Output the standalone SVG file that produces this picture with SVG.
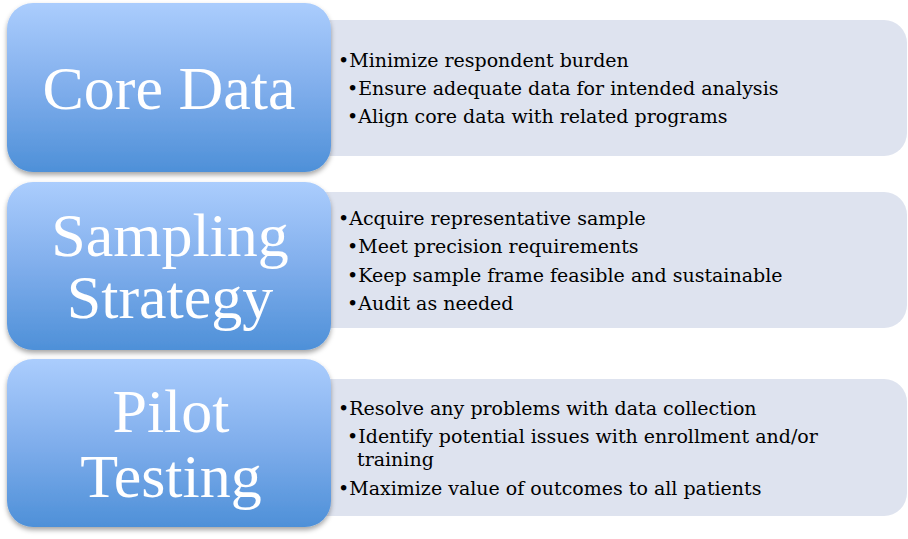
<svg xmlns="http://www.w3.org/2000/svg" width="908" height="539" viewBox="0 0 908 539">
  <defs>
    <linearGradient id="blue" x1="0" y1="0" x2="0" y2="1">
      <stop offset="0" stop-color="#abcdfd"/>
      <stop offset="0.5" stop-color="#80aeec"/>
      <stop offset="1" stop-color="#4e90d8"/>
    </linearGradient>
    <filter id="shadow" x="-10%" y="-10%" width="120%" height="130%">
      <feDropShadow dx="0" dy="3" stdDeviation="2.5" flood-color="#000" flood-opacity="0.35"/>
    </filter>
  </defs>
  <style>
    .panel { fill: #dee3ef; }
    .box { fill: url(#blue); filter: url(#shadow); }
    .title { font-family: "Liberation Serif", "Times New Roman", serif; font-size: 62px; fill: #ffffff; text-anchor: middle; }
    .item { font-family: "DejaVu Serif", "Liberation Serif", serif; font-size: 19px; fill: #000000; }
  </style>
  <rect width="908" height="539" fill="#ffffff"/>

  <g id="core-data">
    <path class="panel" d="M320 20 H884 A23 23 0 0 1 907 43 V133 A23 23 0 0 1 884 156 H320 Z"/>
    <rect class="box" x="7" y="3" width="324" height="169" rx="26" ry="26"/>
    <text class="title" x="169" y="109">Core Data</text>
    <text class="item" x="338" y="67">•Minimize respondent burden</text>
    <text class="item" x="347" y="95">•Ensure adequate data for intended analysis</text>
    <text class="item" x="347" y="123">•Align core data with related programs</text>
  </g>

  <g id="sampling-strategy">
    <path class="panel" d="M320 192 H884 A23 23 0 0 1 907 215 V305 A23 23 0 0 1 884 328 H320 Z"/>
    <rect class="box" x="7" y="182" width="324" height="168" rx="26" ry="26"/>
    <text class="title" x="170" y="256">Sampling</text>
    <text class="title" x="170" y="318">Strategy</text>
    <text class="item" x="338" y="225">•Acquire representative sample</text>
    <text class="item" x="347" y="253">•Meet precision requirements</text>
    <text class="item" x="347" y="282">•Keep sample frame feasible and sustainable</text>
    <text class="item" x="347" y="310">•Audit as needed</text>
  </g>

  <g id="pilot-testing">
    <path class="panel" d="M320 379 H884 A23 23 0 0 1 907 402 V493 A23 23 0 0 1 884 516 H320 Z"/>
    <rect class="box" x="7" y="359" width="324" height="168" rx="26" ry="26"/>
    <text class="title" x="171" y="432">Pilot</text>
    <text class="title" x="171" y="497">Testing</text>
    <text class="item" x="338" y="415">•Resolve any problems with data collection</text>
    <text class="item" x="347" y="443">•Identify potential issues with enrollment and/or</text>
    <text class="item" x="357" y="466">training</text>
    <text class="item" x="338" y="495">•Maximize value of outcomes to all patients</text>
  </g>

  <g id="connectors"/>
</svg>
